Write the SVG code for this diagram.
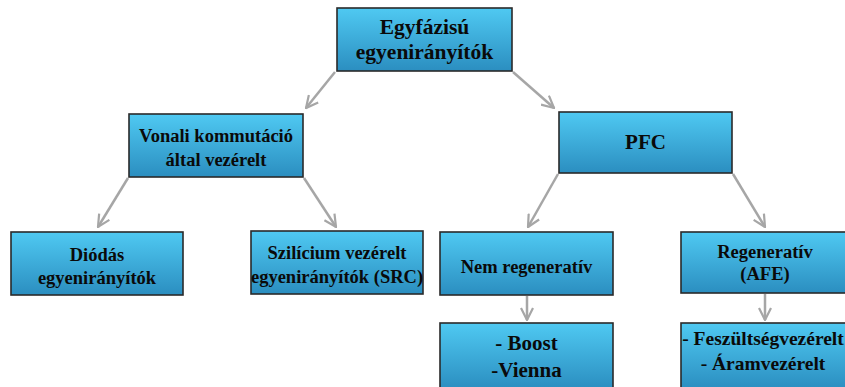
<svg xmlns="http://www.w3.org/2000/svg" width="845" height="387" viewBox="0 0 845 387">
<defs>
<linearGradient id="g" x1="0" y1="0" x2="0" y2="1">
<stop offset="0" stop-color="#4fc9f2"/>
<stop offset="1" stop-color="#2b8ec0"/>
</linearGradient>
<marker id="arr" viewBox="0 0 14 14" refX="13" refY="7" markerWidth="14" markerHeight="14" markerUnits="userSpaceOnUse" orient="auto">
<path d="M1,1 L13,7 L1,13" fill="none" stroke="#a6a6a6" stroke-width="2.2"/>
</marker>
</defs>
<style>
.box{fill:url(#g);stroke:#2a2a2a;stroke-width:1.6}
.t{font-family:"Liberation Serif","Times New Roman",serif;font-weight:bold;fill:#0a0a0a;text-anchor:middle}
.c{fill:none;stroke:#a6a6a6;stroke-width:2.5;marker-end:url(#arr)}
</style>
<rect width="845" height="387" fill="#fff"/>
<g id="connectors">
<line class="c" x1="335" y1="72" x2="306" y2="108"/>
<line class="c" x1="513" y1="72" x2="554" y2="108"/>
<line class="c" x1="128" y1="178" x2="98" y2="227"/>
<line class="c" x1="304" y1="178" x2="336" y2="227"/>
<line class="c" x1="558" y1="174" x2="528" y2="227"/>
<line class="c" x1="733" y1="174" x2="765" y2="227"/>
<line class="c" x1="527" y1="296" x2="527" y2="320"/>
<line class="c" x1="765" y1="294" x2="765" y2="320"/>
</g>
<g id="n-top">
<rect class="box" x="337" y="8" width="175" height="63"/>
<text class="t" x="424.5" y="34" font-size="21.5">Egyfázisú</text>
<text class="t" x="424.5" y="59" font-size="21.5">egyenirányítók</text>
</g>
<g id="n-vonali">
<rect class="box" x="129" y="114" width="174" height="63"/>
<text class="t" x="216" y="142" font-size="18.5">Vonali kommutáció</text>
<text class="t" x="216" y="166" font-size="18.5">által vezérelt</text>
</g>
<g id="n-pfc">
<rect class="box" x="559" y="112" width="173" height="61"/>
<text class="t" x="645.5" y="149" font-size="21">PFC</text>
</g>
<g id="n-diodas">
<rect class="box" x="11" y="232" width="172" height="63"/>
<text class="t" x="97" y="261" font-size="18.5">Diódás</text>
<text class="t" x="97" y="284" font-size="18.5">egyenirányítók</text>
</g>
<g id="n-src">
<rect class="box" x="251" y="231" width="172" height="63"/>
<text class="t" x="337" y="259" font-size="18.5">Szilícium vezérelt</text>
<text class="t" x="337" y="283" font-size="18.5">egyenirányítók (SRC)</text>
</g>
<g id="n-nemreg">
<rect class="box" x="440" y="232" width="173" height="63"/>
<text class="t" x="526.5" y="273" font-size="18.5">Nem regeneratív</text>
</g>
<g id="n-reg">
<rect class="box" x="681" y="232" width="168" height="61"/>
<text class="t" x="765" y="258" font-size="18.5">Regeneratív</text>
<text class="t" x="765" y="280" font-size="18.5">(AFE)</text>
</g>
<g id="n-boost">
<rect class="box" x="440" y="323" width="173" height="66"/>
<text class="t" x="526.5" y="350" font-size="21">- Boost</text>
<text class="t" x="526.5" y="377" font-size="21">-Vienna</text>
</g>
<g id="n-fesz">
<rect class="box" x="681" y="323" width="168" height="66"/>
<text class="t" x="763" y="345" font-size="19.5">- Feszültségvezérelt</text>
<text class="t" x="763" y="370" font-size="19.5">- Áramvezérelt</text>
</g>
</svg>
